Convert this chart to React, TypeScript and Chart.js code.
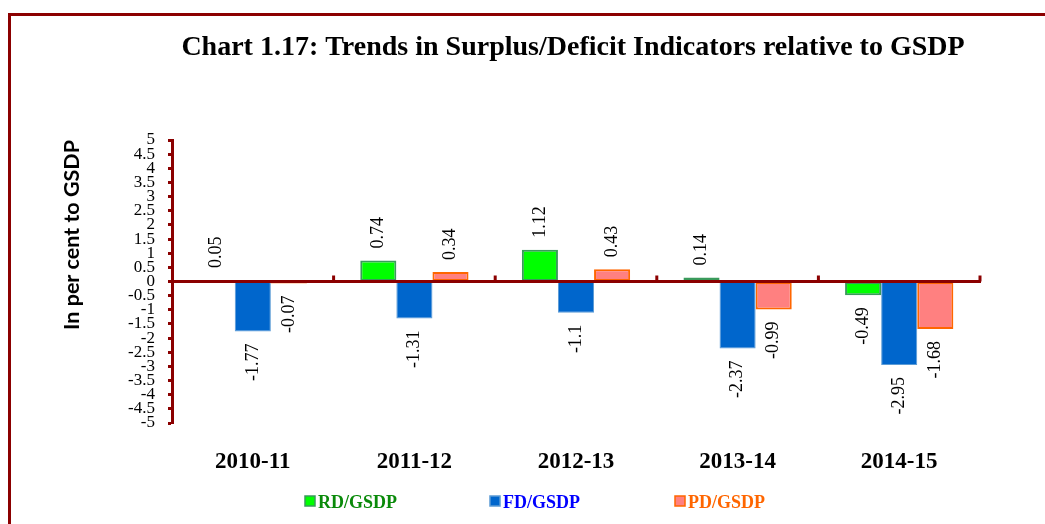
import React, { useEffect, useRef } from "react";
import { Chart, registerables } from "chart.js";

Chart.register(...registerables);

// ---------- data ----------
const categories = ["2010-11", "2011-12", "2012-13", "2013-14", "2014-15"];
const rdGsdp = [0.05, 0.74, 1.12, 0.14, -0.49];
const fdGsdp = [-1.77, -1.31, -1.1, -2.37, -2.95];
const pdGsdp = [-0.07, 0.34, 0.43, -0.99, -1.68];
const seriesNames = ["RD/GSDP", "FD/GSDP", "PD/GSDP"];
const yMin = -5;
const yMax = 5;
const yStep = 0.5;
const titleText = "Chart 1.17: Trends in Surplus/Deficit Indicators relative to GSDP";
const yTitleText = "In per cent to GSDP";

// ---------- styles ----------
const DARK_RED = "#8B0000";
const SERIF = "'Liberation Serif', 'Times New Roman', serif";
const seriesStyles = [
  { fill: "#00FF00", border: "#3A9A5B", width: 2, text: "#0A8A0A" },
  { fill: "#0066CC", border: "#5B9BD5", width: 1, text: "#0000FF" },
  { fill: "#FF8080", border: "#FF6600", width: 2, text: "#FF6600" },
];
const seriesData = [rdGsdp, fdGsdp, pdGsdp];

const framePlugin = {
  id: "frameAndTitle",
  beforeDraw(chart: any) {
    const ctx = chart.ctx;
    ctx.save();
    ctx.fillStyle = "#ffffff";
    ctx.fillRect(0, 0, chart.width, chart.height);
    ctx.strokeStyle = DARK_RED;
    ctx.lineWidth = 3;
    ctx.beginPath();
    ctx.moveTo(9.5, chart.height);
    ctx.lineTo(9.5, 14.5);
    ctx.lineTo(chart.width, 14.5);
    ctx.stroke();
    ctx.fillStyle = "#000";
    ctx.font = `bold 28px ${SERIF}`;
    ctx.textAlign = "center";
    ctx.textBaseline = "middle";
    ctx.fillText(titleText, 573, 48);
    ctx.restore();
  },
};

const overlayPlugin = {
  id: "overlay",
  afterDatasetsDraw(chart: any) {
    const ctx = chart.ctx;
    const xs = chart.scales.x;
    const ys = chart.scales.y;
    const area = chart.chartArea;
    const y0 = ys.getPixelForValue(0);
    ctx.save();
    // zero line
    ctx.strokeStyle = DARK_RED;
    ctx.lineWidth = 3;
    ctx.beginPath();
    ctx.moveTo(area.left, y0);
    ctx.lineTo(area.right + 1, y0);
    ctx.stroke();
    // category boundary ticks
    const n = categories.length;
    for (let i = 1; i <= n; i++) {
      const x =
        i < n
          ? (xs.getPixelForValue(i - 1) + xs.getPixelForValue(i)) / 2
          : area.right;
      ctx.beginPath();
      ctx.moveTo(x, y0);
      ctx.lineTo(x, y0 - 6);
      ctx.stroke();
    }
    // data labels
    ctx.fillStyle = "#000";
    ctx.font = `18px ${SERIF}`;
    ctx.textBaseline = "middle";
    const gap = 12;
    seriesData.forEach((data, d) => {
      const meta = chart.getDatasetMeta(d);
      meta.data.forEach((el: any, i: number) => {
        const v = data[i];
        ctx.save();
        ctx.translate(el.x, v >= 0 ? el.y - gap : el.y + gap);
        ctx.rotate(-Math.PI / 2);
        ctx.textAlign = v >= 0 ? "left" : "right";
        ctx.fillText(String(v), 0, 0);
        ctx.restore();
      });
    });
    ctx.restore();
  },
  afterDraw(chart: any) {
    const ctx = chart.ctx;
    const area = chart.chartArea;
    ctx.save();
    const startX = area.left + 133;
    const step = 185;
    const cy = 503;
    ctx.font = `bold 18px ${SERIF}`;
    ctx.textBaseline = "middle";
    ctx.textAlign = "left";
    seriesNames.forEach((name, i) => {
      const st = seriesStyles[i];
      const x = startX + i * step;
      ctx.fillStyle = st.fill;
      ctx.fillRect(x, cy - 7, 10, 10);
      ctx.strokeStyle = st.border;
      ctx.lineWidth = 1.5;
      ctx.strokeRect(x, cy - 7, 10, 10);
      ctx.fillStyle = st.text;
      ctx.fillText(name, x + 13, cy);
    });
    ctx.restore();
  },
};

export default function App() {
  const ref = useRef<HTMLCanvasElement | null>(null);
  useEffect(() => {
    document.body.style.margin = "0";
    document.body.style.overflow = "hidden";
    const canvas = ref.current!;
    const chart = new Chart(canvas, {
      type: "bar",
      data: {
        labels: categories,
        datasets: seriesNames.map((name, i) => ({
          label: name,
          data: seriesData[i],
          backgroundColor: seriesStyles[i].fill,
          borderColor: seriesStyles[i].border,
          borderWidth: seriesStyles[i].width,
          borderSkipped: false,
          categoryPercentage: 0.67,
          barPercentage: 1.0,
        })),
      },
      options: {
        responsive: false,
        animation: false,
        events: [],
        layout: { padding: { top: 140, left: 50, right: 65, bottom: 0 } },
        plugins: {
          legend: { display: false },
          title: { display: false },
          tooltip: { enabled: false },
        },
        scales: {
          x: {
            type: "category",
            grid: { display: false, drawTicks: false },
            border: { display: false },
            ticks: {
              color: "#000",
              font: { family: SERIF, weight: "bold", size: 23 },
              padding: 25,
              maxRotation: 0,
            },
            afterFit: (s: any) => {
              s.height = 101;
            },
          },
          y: {
            min: yMin,
            max: yMax,
            grid: {
              drawOnChartArea: false,
              drawTicks: true,
              tickLength: 4,
              tickWidth: 3,
              tickColor: DARK_RED,
              color: DARK_RED,
            },
            border: { display: true, color: DARK_RED, width: 3 },
            ticks: {
              stepSize: yStep,
              autoSkip: false,
              color: "#000",
              padding: 13,
              font: { family: SERIF, size: 17, lineHeight: 1 },
              callback: (v: any) => String(Number(v)),
            },
            title: {
              display: true,
              text: yTitleText,
              align: "end",
              color: "#000",
              font: { family: "Lato, 'Open Sans', sans-serif", weight: "bold", size: 21.5 },
              padding: { top: 9, bottom: 0 },
            },
            afterFit: (s: any) => {
              s.width = 122;
            },
          },
        },
      },
      plugins: [framePlugin, overlayPlugin],
    } as any);
    return () => chart.destroy();
  }, []);
  return (
    <canvas
      ref={ref}
      width={1045}
      height={524}
      style={{ display: "block", width: 1045, height: 524 }}
    />
  );
}
